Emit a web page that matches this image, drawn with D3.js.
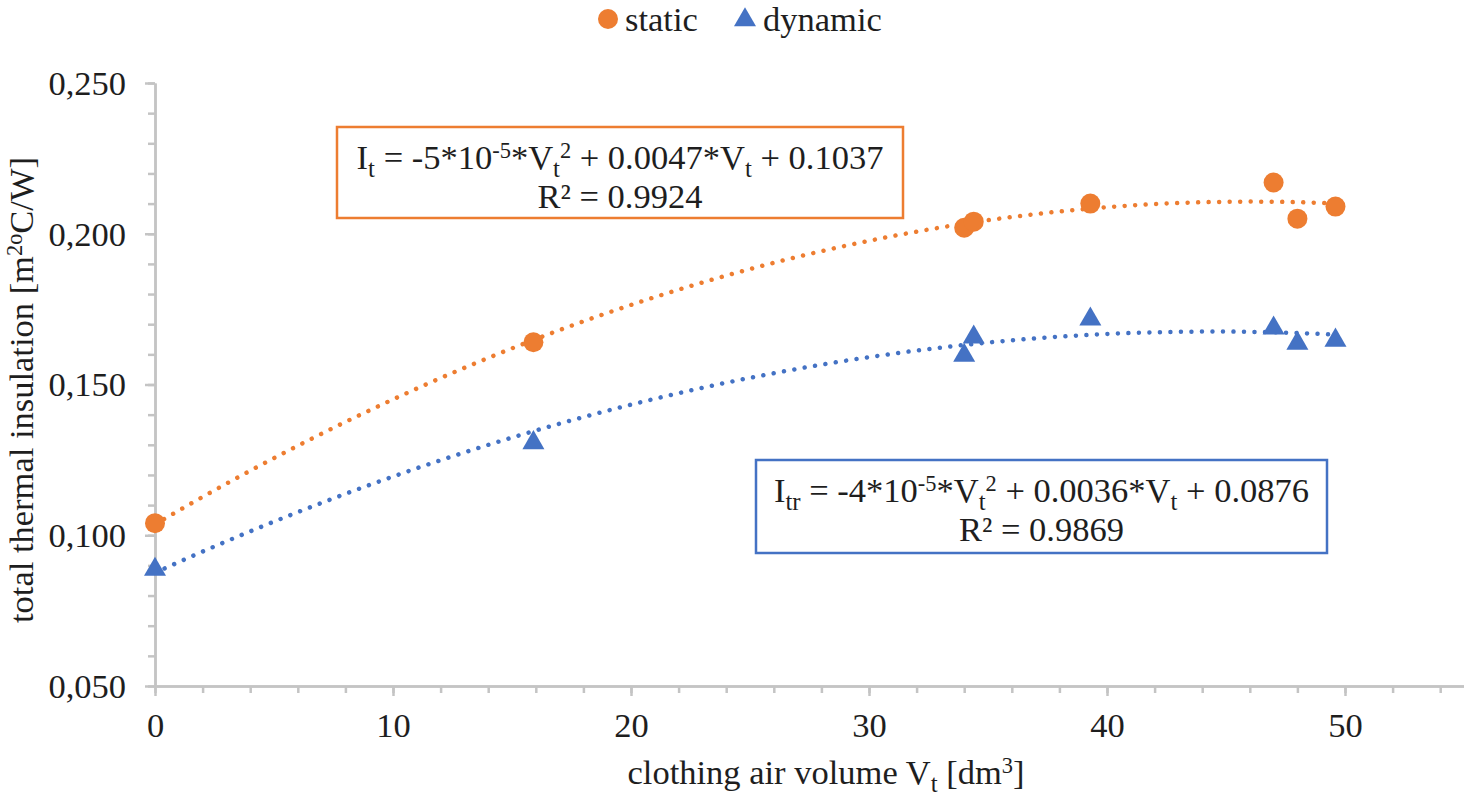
<!DOCTYPE html>
<html>
<head>
<meta charset="utf-8">
<script src="https://cdn.jsdelivr.net/npm/d3@7"></script>
<style>
  body { margin: 0; background: #fff; }
  svg { display: block; }
  text { font-family: "Liberation Serif", "Times New Roman", serif; fill: #1e1e1e; }
</style>
</head>
<body>
<svg id="chart" width="1464" height="798"></svg>
<script>
"use strict";

// measured clothing air volume [dm3]
const volumes = [0, 15.9, 34.0, 34.4, 39.3, 47.0, 48.0, 49.6];
// total thermal insulation, static manikin
const staticVals = [0.104, 0.164, 0.202, 0.204, 0.210, 0.217, 0.205, 0.209];
// total thermal insulation, walking manikin
const dynamicVals = [0.089, 0.131, 0.160, 0.166, 0.172, 0.169, 0.164, 0.165];

const xTicks = [0, 10, 20, 30, 40, 50];
const yTicks = [0.05, 0.10, 0.15, 0.20, 0.25];

const ORANGE = "#ED7D31";
const BLUE = "#4472C4";
const AXIS = "#C4C4C4";
const FS = 34.5;

const svg = d3.select("#chart");

const x = d3.scaleLinear().domain([0, 55]).range([155, 1464]);
const y = d3.scaleLinear().domain([0.05, 0.25]).range([686, 83]);

// least squares quadratic, same as the excel trendline
function polyFit(xs, ys) {
    let s = [0, 0, 0, 0, 0], t = [0, 0, 0];
    xs.forEach((xi, i) => {
        for (let k = 0; k < 5; k++) s[k] += Math.pow(xi, k);
        for (let k = 0; k < 3; k++) t[k] += ys[i] * Math.pow(xi, k);
    });
    let m = [[s[0], s[1], s[2], t[0]], [s[1], s[2], s[3], t[1]], [s[2], s[3], s[4], t[2]]];
    for (let i = 0; i < 3; i++) {
        for (let j = i + 1; j < 3; j++) {
            let f = m[j][i] / m[i][i];
            for (let k = i; k < 4; k++) m[j][k] -= f * m[i][k];
        }
    }
    let c = [0, 0, 0];
    for (let i = 2; i >= 0; i--) {
        let v = m[i][3];
        for (let k = i + 1; k < 3; k++) v -= m[i][k] * c[k];
        c[i] = v / m[i][i];
    }
    return v => c[0] + c[1] * v + c[2] * v * v;
}

// axes
const xMinor = svg.append("g").attr("transform", "translate(0,686)")
    .call(d3.axisBottom(x).tickValues(d3.range(0, 55, 2)).tickSize(7).tickSizeOuter(0).tickFormat(""));
const xAxis = svg.append("g").attr("transform", "translate(0,686)")
    .call(d3.axisBottom(x).tickValues(xTicks).tickSize(10).tickSizeOuter(0));
const yMinor = svg.append("g").attr("transform", "translate(155,0)")
    .call(d3.axisLeft(y).tickValues(d3.range(0.05, 0.2501, 0.01)).tickSize(7).tickSizeOuter(0).tickFormat(""));
const yAxis = svg.append("g").attr("transform", "translate(155,0)")
    .call(d3.axisLeft(y).tickValues(yTicks).tickSize(10).tickSizeOuter(0).tickPadding(19)
        .tickFormat(d => d3.format(".3f")(d).replace(".", ",")));

[xMinor, xAxis, yMinor, yAxis].forEach(g => {
    g.selectAll("path, line").attr("stroke", AXIS).attr("stroke-width", 2.5);
    g.selectAll("text").style("font-size", FS + "px").attr("fill", "#1e1e1e")
        .style("font-family", "'Liberation Serif', serif");
});
xAxis.selectAll("text").attr("y", 51).attr("dy", null);
yAxis.selectAll("text").attr("dy", "0.33em");

// trend lines
const line = d3.line().x(d => x(d[0])).y(d => y(d[1]));
[[staticVals, ORANGE], [dynamicVals, BLUE]].forEach(([vals, col]) => {
    const f = polyFit(volumes, vals);
    const pts = d3.range(0, 49.6, 0.2).concat([49.6]).map(v => [v, f(v)]);
    svg.append("path").datum(pts).attr("d", line)
        .attr("fill", "none").attr("stroke", col).attr("stroke-width", 4.5)
        .attr("stroke-linecap", "round").attr("stroke-dasharray", "0.01 10.5");
});

// markers
const tri = d3.symbol().type(d3.symbolTriangle).size(210);
svg.append("g").selectAll("circle").data(volumes).join("circle")
    .attr("cx", d => x(d)).attr("cy", (d, i) => y(staticVals[i])).attr("r", 10)
    .attr("fill", ORANGE);
svg.append("g").selectAll("path").data(volumes).join("path")
    .attr("d", tri).attr("transform", (d, i) => `translate(${x(d)},${y(dynamicVals[i]) + 1})`)
    .attr("fill", BLUE);

// rich text helper: parts with sub / sup
function rich(sel, parts) {
    let cur = 0;
    parts.forEach(p => {
        let shift = p.s === "sub" ? 0.24 : p.s === "sup" ? -0.32 : 0;
        let small = p.s === "sub" ? 0.72 : p.s === "sup" ? 0.65 : 1;
        sel.append("tspan").text(p.t)
            .attr("dy", ((shift - cur) * FS).toFixed(2))
            .style("font-size", (FS * small) + "px");
        cur = shift;
    });
}

// legend
svg.append("circle").attr("cx", 608).attr("cy", 19).attr("r", 10).attr("fill", ORANGE);
svg.append("text").attr("x", 625).attr("y", 31).style("font-size", FS + "px").text("static");
svg.append("path").attr("d", tri).attr("transform", "translate(745,20)").attr("fill", BLUE);
svg.append("text").attr("x", 763).attr("y", 31).style("font-size", FS + "px").text("dynamic");

// equation boxes
function eqBox(x0, y0, w, h, col, line1, r2) {
    svg.append("rect").attr("x", x0).attr("y", y0).attr("width", w).attr("height", h)
        .attr("fill", "#fff").attr("stroke", col).attr("stroke-width", 2.5);
    const t1 = svg.append("text").attr("x", x0 + w / 2).attr("y", y0 + 42)
        .attr("text-anchor", "middle").style("font-size", FS + "px");
    rich(t1, line1);
    const t2 = svg.append("text").attr("x", x0 + w / 2).attr("y", y0 + 81)
        .attr("text-anchor", "middle").style("font-size", FS + "px");
    t2.text("R² = " + r2);
}

eqBox(337, 127, 566, 91, ORANGE, [
    { t: "I" }, { t: "t", s: "sub" }, { t: " = -5*10" }, { t: "-5", s: "sup" }, { t: "*V" },
    { t: "t", s: "sub" }, { t: "2", s: "sup" }, { t: " + 0.0047*V" }, { t: "t", s: "sub" }, { t: " + 0.1037" }
], "0.9924");

eqBox(756, 460, 571, 93, BLUE, [
    { t: "I" }, { t: "tr", s: "sub" }, { t: " = -4*10" }, { t: "-5", s: "sup" }, { t: "*V" },
    { t: "t", s: "sub" }, { t: "2", s: "sup" }, { t: " + 0.0036*V" }, { t: "t", s: "sub" }, { t: " + 0.0876" }
], "0.9869");

// axis titles
const xt = svg.append("text").attr("x", 826).attr("y", 784).attr("text-anchor", "middle")
    .style("font-size", FS + "px");
rich(xt, [{ t: "clothing air volume V" }, { t: "t", s: "sub" }, { t: " [dm" }, { t: "3", s: "sup" }, { t: "]" }]);

const yt = svg.append("text").attr("transform", "translate(33,390) rotate(-90)").attr("text-anchor", "middle")
    .style("font-size", FS + "px");
rich(yt, [{ t: "total thermal insulation [m" }, { t: "2o", s: "sup" }, { t: "C/W]" }]);
</script>
</body>
</html>
